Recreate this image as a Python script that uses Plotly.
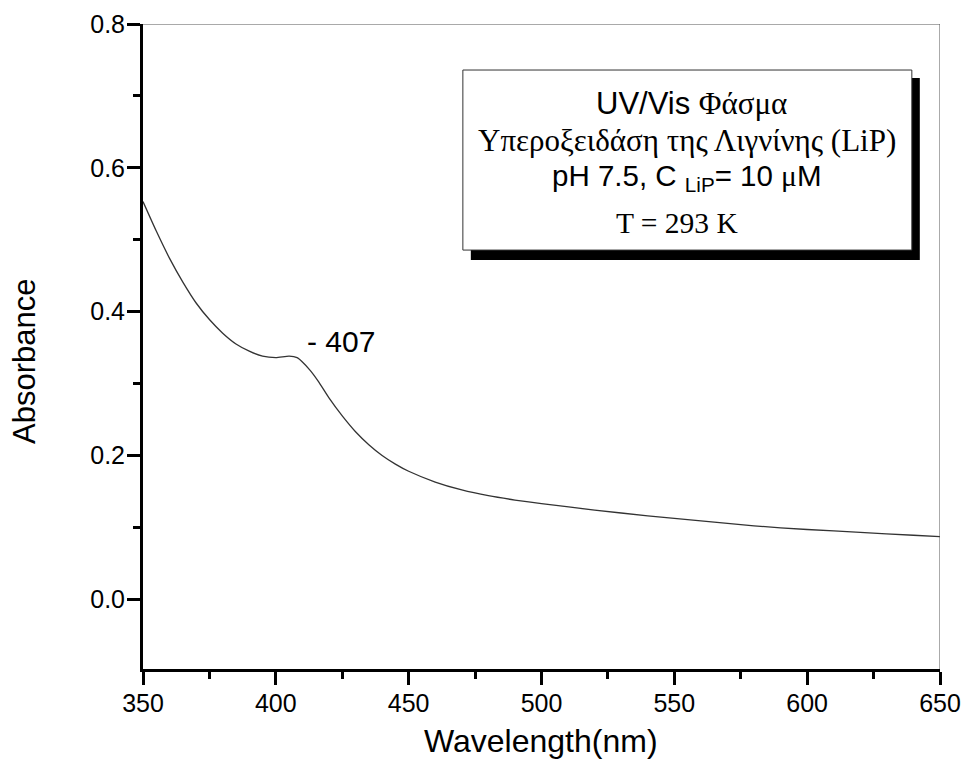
import plotly.graph_objects as go

wavelength = [350, 355, 360, 365, 370, 375, 380, 385, 390, 395, 400, 405, 408, 410, 413, 416,
              420, 425, 430, 435, 440, 445, 450, 460, 470, 480, 490, 500, 520, 540, 560,
              580, 600, 620, 640, 650]
absorbance = [0.553, 0.512, 0.474, 0.441, 0.412, 0.389, 0.370, 0.355, 0.345, 0.338, 0.336, 0.338,
              0.336, 0.330, 0.318, 0.303, 0.280, 0.255, 0.233, 0.215, 0.200, 0.188, 0.178, 0.163,
              0.152, 0.144, 0.138, 0.133, 0.124, 0.116, 0.109, 0.102, 0.097, 0.093, 0.089, 0.087]

peak_label = "- 407"
box_lines = [
    '<span style="font-family:Liberation Sans">UV/Vis </span><span style="font-family:Liberation Serif">Φάσμα</span>',
    '<span style="font-family:Liberation Serif">Υπεροξειδάση της Λιγνίνης (LiP)</span>',
    '<span style="font-family:Liberation Sans">pH 7.5, C <sub>LiP</sub>= 10 </span><span style="font-family:Liberation Serif">μ</span><span style="font-family:Liberation Sans">M</span>',
    '<span style="font-family:Liberation Serif">T = 293 K</span>',
]
box_line_x = [556.6, 554.7, 554.7, 551.0]
box_line_y = [0.690, 0.6386, 0.587, 0.523]
box_line_size = [31, 31, 29.5, 29.5]

X0, X1 = 350, 650
Y0, Y1 = -0.097, 0.8

fig = go.Figure()
fig.add_trace(go.Scatter(x=wavelength, y=absorbance, mode="lines",
                         line=dict(color="#333333", width=1.3, shape="spline", smoothing=0.6),
                         showlegend=False, hoverinfo="skip"))

axis_common = dict(showline=True, linewidth=3, linecolor="black", ticks="outside",
                   tickwidth=2.5, tickcolor="black", ticklen=13, showgrid=False,
                   zeroline=False, automargin=False,
                   tickfont=dict(family="Liberation Sans", size=25, color="black"))

fig.update_xaxes(range=[X0, X1], dtick=50, tick0=350, ticklabelstandoff=-3,
                 minor=dict(dtick=25, ticks="outside", ticklen=7, tickwidth=2.5, tickcolor="black"),
                 **axis_common)
fig.update_yaxes(range=[Y0, Y1], dtick=0.2, tick0=0, tickformat=".1f",
                 minor=dict(dtick=0.1, ticks="outside", ticklen=7, tickwidth=2.5, tickcolor="black"),
                 ticklabelstandoff=-3, **axis_common)

shapes = [
    # top and right thin borders
    dict(type="line", xref="x", yref="y", x0=X0, x1=X1, y0=Y1, y1=Y1, line=dict(color="#555555", width=1)),
    dict(type="line", xref="x", yref="y", x0=X1, x1=X1, y0=Y0, y1=Y1, line=dict(color="#555555", width=1)),
    # shadow
    dict(type="rect", xref="x", yref="y", x0=473.4, x1=642.4, y0=0.4717, y1=0.725,
         fillcolor="black", line=dict(width=0)),
    # box
    dict(type="rect", xref="x", yref="y", x0=470.4, x1=639.4, y0=0.4856, y1=0.736,
         fillcolor="white", line=dict(color="#333333", width=1)),
]
fig.update_layout(shapes=shapes)

annotations = [
    dict(text="Wavelength(nm)", xref="paper", yref="paper", x=0.4994, y=-0.1116,
         showarrow=False, font=dict(family="Liberation Sans", size=32, color="black"),
         xanchor="center", yanchor="middle"),
    dict(text="Absorbance", xref="paper", yref="paper", x=-0.148, y=0.476, textangle=-90,
         showarrow=False, font=dict(family="Liberation Sans", size=31, color="black"),
         xanchor="center", yanchor="middle"),
    dict(text=peak_label, xref="x", yref="y", x=411, y=0.359, showarrow=False,
         font=dict(family="Liberation Sans", size=30, color="black"),
         xanchor="left", yanchor="middle"),
]
for t, xx, yy, sz in zip(box_lines, box_line_x, box_line_y, box_line_size):
    annotations.append(dict(text=t, xref="x", yref="y", x=xx, y=yy, showarrow=False,
                            font=dict(family="Liberation Sans", size=sz, color="black"),
                            xanchor="center", yanchor="middle"))
fig.update_layout(annotations=annotations)

fig.update_layout(width=963, height=769, margin=dict(l=143, r=23, t=24, b=100),
                  paper_bgcolor="white", plot_bgcolor="white")

fig.write_html("out.html")
